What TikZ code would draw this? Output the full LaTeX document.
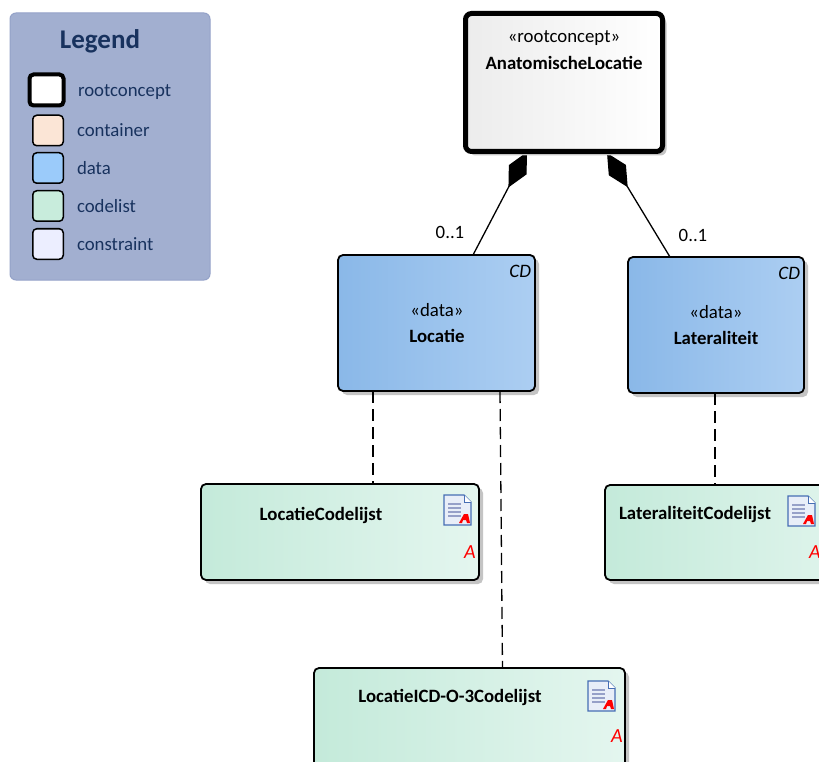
\documentclass[tikz,border=0pt]{standalone}
\usepackage{fontspec}
\setmainfont{Carlito}
\usetikzlibrary{arrows.meta,shadows,calc}
\definecolor{legendbg}{RGB}{162,175,208}
\definecolor{legendbd}{RGB}{148,162,200}
\definecolor{legendtx}{RGB}{24,50,94}
\definecolor{containerc}{RGB}{251,229,214}
\definecolor{datac}{RGB}{155,203,250}
\definecolor{codelistc}{RGB}{200,236,220}
\definecolor{constraintc}{RGB}{236,238,255}
\definecolor{dataL}{RGB}{138,184,232}
\definecolor{dataR}{RGB}{172,206,242}
\definecolor{codeL}{RGB}{196,234,218}
\definecolor{codeR}{RGB}{228,246,239}
\definecolor{rootL}{RGB}{236,236,236}
\definecolor{shadowc}{RGB}{196,196,196}
\definecolor{iconblue}{RGB}{70,110,180}
\definecolor{iconbg}{RGB}{232,238,248}
\definecolor{iconline}{RGB}{150,160,200}
\tikzset{
  txt/.style={font=\fontsize{18.8}{22}\selectfont, inner sep=0pt, outer sep=0pt},
  btxt/.style={txt, font=\fontsize{18.8}{22}\selectfont\bfseries},
  itxt/.style={txt, font=\fontsize{19}{22}\selectfont\itshape},
  atxt/.style={txt, font=\fontsize{20}{22}\selectfont\itshape, text=red},
  ltxt/.style={txt, text=legendtx, anchor=west},
  shd/.style={drop shadow={shadow xshift=4pt, shadow yshift=-4pt, fill=shadowc, opacity=1}},
  rootbox/.style={draw=black, line width=5pt, rounded corners=6pt, left color=rootL, right color=white, shd, inner sep=0pt, outer sep=0pt},
  databox/.style={draw=black, line width=1.8pt, rounded corners=5pt, left color=dataL, right color=dataR, shd, inner sep=0pt, outer sep=0pt},
  codebox/.style={draw=black, line width=1.8pt, rounded corners=5pt, left color=codeL, right color=codeR, shd, inner sep=0pt, outer sep=0pt},
  swatch/.style={draw=black, line width=1.5pt, rounded corners=4pt, minimum width=30.5pt, minimum height=30.5pt, inner sep=0pt, outer sep=0pt},
  comp/.style={draw=black, line width=1.3pt, -{Diamond[length=40pt,width=20pt,fill=black]}},
  dep/.style={draw=black, line width=1.3pt, dash pattern=on 12pt off 6pt},
  docicon/.pic={
    \draw[line width=1.1pt, draw=iconblue, fill=iconbg] (0,0) -- (20,0) -- (27,7) -- (27,30) -- (0,30) -- cycle;
    \draw[line width=0.9pt, draw=iconblue, fill=white] (20,0) -- (20,7) -- (27,7);
    \foreach \yy in {9,13,17,21} \draw[iconline, line width=1.3pt] (4,\yy) -- (17,\yy);
    \fill[red] (15,28) -- (20,19) -- (24,19) -- (26,28) -- (23,28) -- (22,25) -- (19,25) -- (18,28) -- cycle;
  }
}
\begin{document}
\begin{tikzpicture}[x=1pt,y=-1pt]
\clip (0,0) rectangle (819,762);
\fill[white] (0,0) rectangle (819,762);

% Legend
\node[draw=legendbd, line width=1pt, fill=legendbg, rounded corners=6pt, minimum width=200pt, minimum height=267pt, inner sep=0pt, outer sep=0pt] (legend) at (110,146.5) {};
\node[font=\fontsize{27}{28}\selectfont\bfseries, text=legendtx, inner sep=0pt] (legendT) at (100,41) {Legend};
\node[swatch, line width=4pt, fill=white, minimum width=34pt, minimum height=31pt] (swRoot) at (46.5,90) {};
\node[ltxt] (lbRoot) at (78,92) {rootconcept};
\node[swatch, fill=containerc] (swCont) at (48,130.5) {};
\node[ltxt] (lbCont) at (77,130) {container};
\node[swatch, fill=datac] (swData) at (48,168) {};
\node[ltxt] (lbData) at (77,168) {data};
\node[swatch, fill=codelistc] (swCode) at (48,206) {};
\node[ltxt] (lbCode) at (77,206) {codelist};
\node[swatch, fill=constraintc] (swCons) at (48,244) {};
\node[ltxt] (lbCons) at (77,244) {constraint};

% boxes (shapes first for connectors)
\node[databox, minimum width=197pt, minimum height=136pt] (loc) at (436.5,323) {};
\node[databox, minimum width=176pt, minimum height=136pt] (lat) at (716,325) {};
\node[codebox, minimum width=278pt, minimum height=96pt] (locc) at (340,532) {};
\node[codebox, minimum width=278pt, minimum height=95pt] (latc) at (744,532.5) {};
\node[codebox, minimum width=311pt, minimum height=122pt] (icd) at (469.5,729) {};

% connectors
\draw[comp] ($(loc.north west)+(135,0)$) -- (527,152) coordinate (rootTipL);
\draw[comp] ($(lat.north west)+(42,0)$) -- (607,153) coordinate (rootTipR);
\draw[dep] ($(loc.south west)+(35,0)$) -- ($(locc.north west)+(172,0)$);
\draw[dep] ($(loc.south west)+(162,0)$) -- ($(icd.north west)+(188.5,0)$);
\draw[dep] ($(lat.south west)+(87,0)$) -- ($(latc.north west)+(110,0)$);

% root concept (covers diamond ends)
\node[rootbox, minimum width=197pt, minimum height=138pt] (root) at (564,82.5) {};
\node[txt] (rootS) at (564,38) {«rootconcept»};
\node[btxt] (rootN) at (564,63) {AnatomischeLocatie};

% multiplicities
\node[txt] (m1) at (450,232) {0..1};
\node[txt] (m2) at (693,235) {0..1};

% data texts
\node[itxt, anchor=east] (locCD) at (531,271) {CD};
\node[txt] (locS) at (437,310) {«data»};
\node[btxt] (locN) at (437,336) {Locatie};
\node[itxt, anchor=east] (latCD) at (800,273) {CD};
\node[txt] (latS) at (716,312) {«data»};
\node[btxt] (latN) at (716,338) {Lateraliteit};

% codelist texts
\node[btxt] (loccN) at (321,515) {LocatieCodelijst};
\pic at (444,495) {docicon};
\node[atxt] (loccA) at (470,552) {A};
\node[btxt] (latcN) at (695,514) {LateraliteitCodelijst};
\pic at (788,496) {docicon};
\node[atxt] (latcA) at (815,552) {A};
\node[btxt] (icdN) at (450,697) {LocatieICD-O-3Codelijst};
\pic at (588,681) {docicon};
\node[atxt] (icdA) at (617,736) {A};
\end{tikzpicture}
\end{document}
